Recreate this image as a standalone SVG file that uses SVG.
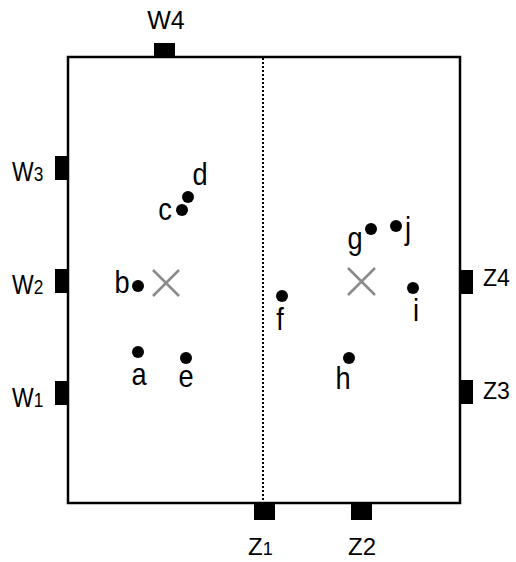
<svg xmlns="http://www.w3.org/2000/svg" width="516" height="562" viewBox="0 0 516 562">
<style>
text{font-family:"Liberation Sans",Arial,sans-serif;fill:#000}
.l{font-size:32px;text-anchor:middle}
.w{font-size:28px}
.ws{font-size:21px}
.z{font-size:24px}
.zs{font-size:18px}
.zr{font-size:23px}
.port{fill:#000}
.dot{fill:#000}
.x{stroke:#8a8a8a;stroke-width:2.5;fill:none}
</style>
<rect width="516" height="562" fill="#fff"/>
<g id="frame">
<rect x="68" y="57" width="392" height="446" fill="none" stroke="#000" stroke-width="2.5"/>
</g>
<g id="connectors">
<line x1="263" y1="58" x2="263" y2="502" stroke="#000" stroke-width="2" stroke-dasharray="2,2"/>
</g>
<g id="W4"><rect class="port" x="154" y="43" width="21" height="14"/><text x="166" y="29" font-size="25" text-anchor="middle">W4</text></g>
<g id="W3"><rect class="port" x="55" y="156" width="13" height="24"/><text class="w" transform="translate(12,181) scale(0.82,1)">W<tspan class="ws">3</tspan></text></g>
<g id="W2"><rect class="port" x="55" y="269" width="13" height="24"/><text class="w" transform="translate(12,294) scale(0.82,1)">W<tspan class="ws">2</tspan></text></g>
<g id="W1"><rect class="port" x="55" y="381" width="13" height="24"/><text class="w" transform="translate(12,407) scale(0.82,1)">W<tspan class="ws">1</tspan></text></g>
<g id="Z1"><rect class="port" x="254" y="503" width="21" height="17"/><text class="z" x="248" y="555">Z<tspan class="zs">1</tspan></text></g>
<g id="Z2"><rect class="port" x="351" y="503" width="21" height="17"/><text class="z" x="348" y="555">Z2</text></g>
<g id="Z4"><rect class="port" x="460" y="270" width="13" height="24"/><text class="zr" x="483" y="286">Z4</text></g>
<g id="Z3"><rect class="port" x="460" y="380" width="13" height="24"/><text class="zr" x="483" y="399">Z3</text></g>
<g id="a"><circle class="dot" cx="138" cy="352" r="6"/><text class="l" transform="translate(139,385) scale(0.85,1)">a</text></g>
<g id="b"><circle class="dot" cx="138" cy="286" r="6"/><text class="l" transform="translate(122,293) scale(0.85,1)">b</text></g>
<g id="c"><circle class="dot" cx="182" cy="210" r="6"/><text class="l" transform="translate(165,220) scale(0.85,1)">c</text></g>
<g id="d"><circle class="dot" cx="188" cy="197" r="6"/><text class="l" transform="translate(200,185) scale(0.85,1)">d</text></g>
<g id="e"><circle class="dot" cx="186" cy="358" r="6"/><text class="l" transform="translate(186,387) scale(0.85,1)">e</text></g>
<g id="f"><circle class="dot" cx="282" cy="296" r="6"/><text class="l" transform="translate(280,330) scale(0.85,1)">f</text></g>
<g id="g"><circle class="dot" cx="371" cy="229" r="6"/><text class="l" transform="translate(355,249) scale(0.85,1)">g</text></g>
<g id="h"><circle class="dot" cx="349" cy="358" r="6"/><text class="l" transform="translate(343,389) scale(0.85,1)">h</text></g>
<g id="i"><circle class="dot" cx="413" cy="288" r="6"/><text class="l" transform="translate(416,321) scale(0.85,1)">i</text></g>
<g id="j"><circle class="dot" cx="396" cy="226" r="6"/><text class="l" transform="translate(408,239) scale(0.85,1)">j</text></g>
<g id="centroid-left"><path class="x" d="M153,270 L179,296 M179,270 L153,296"/></g>
<g id="centroid-right"><path class="x" d="M348,268 L375,295 M375,268 L348,295"/></g>
</svg>
